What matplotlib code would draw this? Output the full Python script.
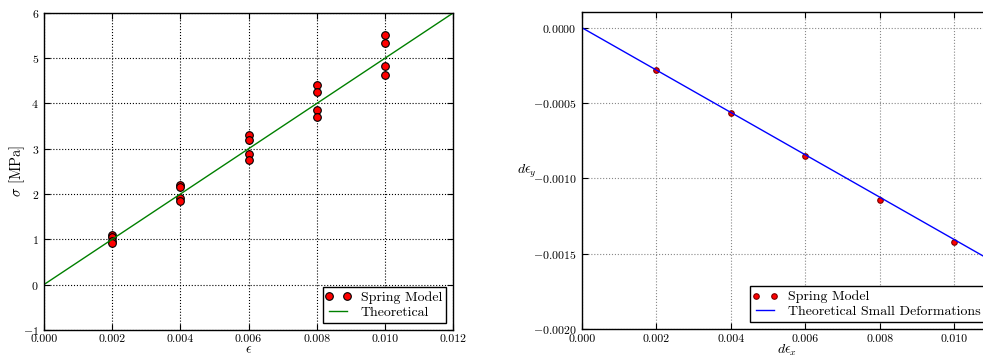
import matplotlib
matplotlib.use("Agg")
import matplotlib.pyplot as plt
from matplotlib.legend_handler import HandlerLine2D

plt.rcParams['font.family'] = 'serif'
plt.rcParams['font.serif'] = ['cmr10']
plt.rcParams['mathtext.fontset'] = 'cm'
plt.rcParams['axes.formatter.use_mathtext'] = True
plt.rcParams['axes.unicode_minus'] = True

# stress-strain data (left)
strain = [0.002] * 4 + [0.004] * 4 + [0.006] * 4 + [0.008] * 4 + [0.010] * 4
stress = [1.10, 1.05, 0.97, 0.93,
          2.21, 2.15, 1.92, 1.85,
          3.30, 3.20, 2.88, 2.76,
          4.40, 4.26, 3.85, 3.69,
          5.50, 5.34, 4.82, 4.62]
theory_strain = [0.0, 0.012]
theory_stress = [0.0, 6.0]

# lateral strain data (right)
deps_x = [0.002, 0.004, 0.006, 0.008, 0.010]
deps_y = [-0.000284, -0.000569, -0.000852, -0.001140, -0.001424]
theory_dx = [0.0, 0.011]
theory_dy = [0.0, -0.0015455]

left_xticks = [0.000, 0.002, 0.004, 0.006, 0.008, 0.010, 0.012]
right_xticks = [0.000, 0.002, 0.004, 0.006, 0.008, 0.010]

fig = plt.figure(figsize=(9.83, 3.56), dpi=100)
ax1 = fig.add_axes([0.0445, 0.073, 0.4167, 0.891])
ax2 = fig.add_axes([0.5917, 0.075, 0.4169, 0.890])


def style_axes(ax):
    ax.grid(True, linestyle=':', color='k', linewidth=0.8)
    ax.tick_params(direction='in', top=True, right=True, labelsize=8.5, length=4, width=0.8)
    for s in ax.spines.values():
        s.set_linewidth(1.0)


def add_legend(ax):
    leg = ax.legend(loc='lower right', fontsize=10, fancybox=False, framealpha=1,
                    edgecolor='black', handlelength=1.5, labelspacing=0.15,
                    borderpad=0.3, handletextpad=0.9,
                    handler_map={matplotlib.lines.Line2D: HandlerLine2D(numpoints=2, marker_pad=0.1)})
    leg.get_frame().set_linewidth(1.0)
    return leg


ax1.plot(strain, stress, 'o', color='red', mec='black', mew=0.8, ms=5.5, label='Spring Model')
ax1.plot(theory_strain, theory_stress, '-', color='green', lw=1.0, label='Theoretical')
ax1.set_xlim(0, 0.012)
ax1.set_ylim(-1, 6)
ax1.set_xticks(left_xticks)
ax1.set_xticklabels(['%.3f' % t for t in left_xticks])
ax1.set_xlabel(r'$\epsilon$', fontsize=10, labelpad=0)
ax1.set_ylabel(r'$\sigma$ [MPa]', fontsize=10.5, va='center', ha='center')
ax1.yaxis.set_label_coords(-0.065, 0.5)
style_axes(ax1)
add_legend(ax1)

ax2.plot(deps_x, deps_y, 'o', color='red', mec='#7a0000', mew=0.8, ms=4, label='Spring Model')
ax2.plot(theory_dx, theory_dy, '-', color='blue', lw=1.0, label='Theoretical Small Deformations')
ax2.set_xlim(0, 0.011)
ax2.set_ylim(-0.002, 0.0001)
ax2.set_xticks(right_xticks)
ax2.set_xticklabels(['%.3f' % t for t in right_xticks])
ax2.set_yticks([0.0, -0.0005, -0.0010, -0.0015, -0.0020])
ax2.set_yticklabels([r'$0.0000$', r'$-0.0005$', r'$-0.0010$', r'$-0.0015$', r'$-0.0020$'])
ax2.set_xlabel(r'$d\epsilon_x$', fontsize=10, labelpad=-1)
ax2.set_ylabel(r'$d\epsilon_y$', fontsize=10, rotation=0, va='center', ha='center')
ax2.yaxis.set_label_coords(-0.133, 0.5)
style_axes(ax2)
ax2.grid(True, linestyle=':', color='#888888', linewidth=0.8)
add_legend(ax2)

fig.savefig('out.png', dpi=100)
